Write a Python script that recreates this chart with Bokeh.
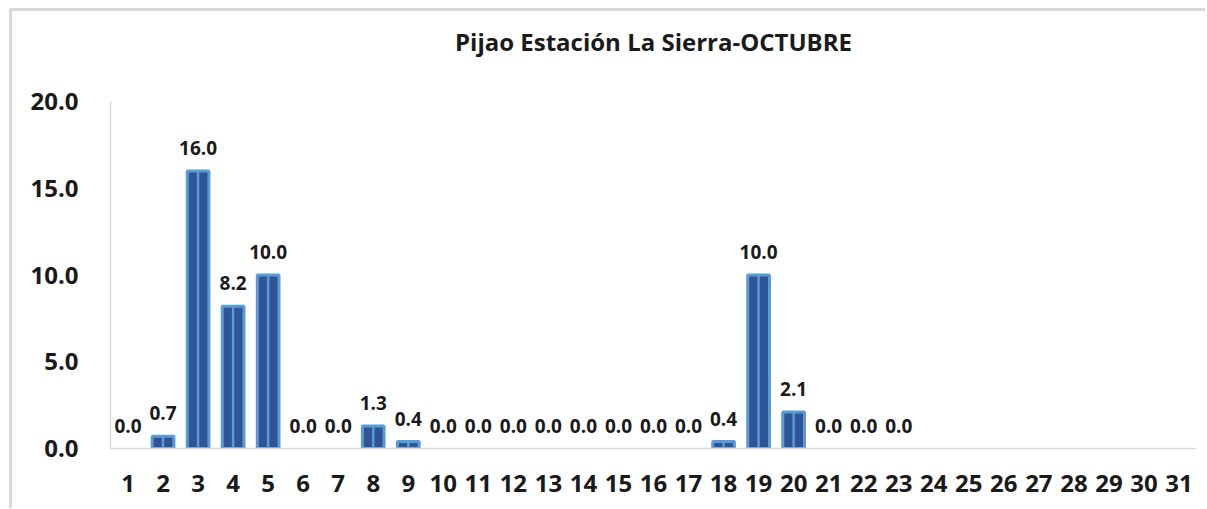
import math
from bokeh.plotting import figure
from bokeh.models import ColumnDataSource, FixedTicker, NumeralTickFormatter, Range1d, Title
from bokeh.core.properties import value
from bokeh.embed import file_html
from bokeh.resources import INLINE

days = [str(d) for d in range(1, 32)]
rain = [0.0, 0.7, 16.0, 8.2, 10.0, 0.0, 0.0, 1.3, 0.4, 0.0, 0.0, 0.0, 0.0, 0.0, 0.0, 0.0,
        0.0, 0.4, 10.0, 2.1, 0.0, 0.0, 0.0,
        float("nan"), float("nan"), float("nan"), float("nan"), float("nan"), float("nan"),
        float("nan"), float("nan")]
y_ticks = [0, 5, 10, 15, 20]
title = "Pijao Estación La Sierra-OCTUBRE"

FONT = "Open Sans"

p = figure(x_range=days, y_range=Range1d(0, 20), width=1196, height=500,
           output_backend="svg", toolbar_location=None, title=None,
           min_border_left=98, min_border_right=12, min_border_top=90, min_border_bottom=63)
p.styles = {"border-top": "3px solid #D9D9D9", "border-left": "3px solid #D9D9D9",
            "margin-left": "9px", "margin-top": "8px"}

spacer = Title(text=" ", text_font_size="2px", standoff=40)
real_title = Title(text=title, align="center", vertical_align="bottom", standoff=0,
                   text_font=FONT, text_font_size="24px", text_font_style="bold",
                   text_color="#1a1a1a")
p.above = [spacer, real_title]

valid = [not math.isnan(v) for v in rain]
lab_days = [d for d, ok in zip(days, valid) if ok]
lab_vals = [v for v, ok in zip(rain, valid) if ok]
lab_src = ColumnDataSource(dict(x=lab_days, top=lab_vals,
                                label=[f"{v:.1f}" for v in lab_vals]))
bar_src = ColumnDataSource(dict(x=[d for d, v in zip(lab_days, lab_vals) if v > 0],
                                top=[v for v in lab_vals if v > 0]))

p.vbar(x="x", top="top", width=0.62, source=bar_src, fill_color="#2F5597",
       line_color="#5B9BD5", line_width=3)
p.vbar(x="x", top="top", width=0.07, source=bar_src, fill_color="#5B9BD5",
       line_color=None)

p.text(x="x", y="top", text="label", source=lab_src, text_align="center",
       text_baseline="middle", y_offset=-23, text_font=value(FONT),
       text_font_size="19px", text_font_style="bold", text_color="#1a1a1a")

p.xgrid.grid_line_color = None
p.ygrid.grid_line_color = None
p.outline_line_color = None
p.x_range.range_padding = 0

for ax in (p.xaxis, p.yaxis):
    ax.axis_line_color = "#D9D9D9"
    ax.axis_line_width = 1.5
    ax.major_tick_line_color = None
    ax.minor_tick_line_color = None
    ax.major_label_text_font = FONT
    ax.major_label_text_font_size = "24px"
    ax.major_label_text_font_style = "bold"
    ax.major_label_text_color = "#1a1a1a"

p.yaxis.ticker = FixedTicker(ticks=y_ticks)
p.yaxis.formatter = NumeralTickFormatter(format="0.0")
p.yaxis.major_label_standoff = 26
p.xaxis.major_label_standoff = 20

open("out.html", "w").write(file_html(p, INLINE))
